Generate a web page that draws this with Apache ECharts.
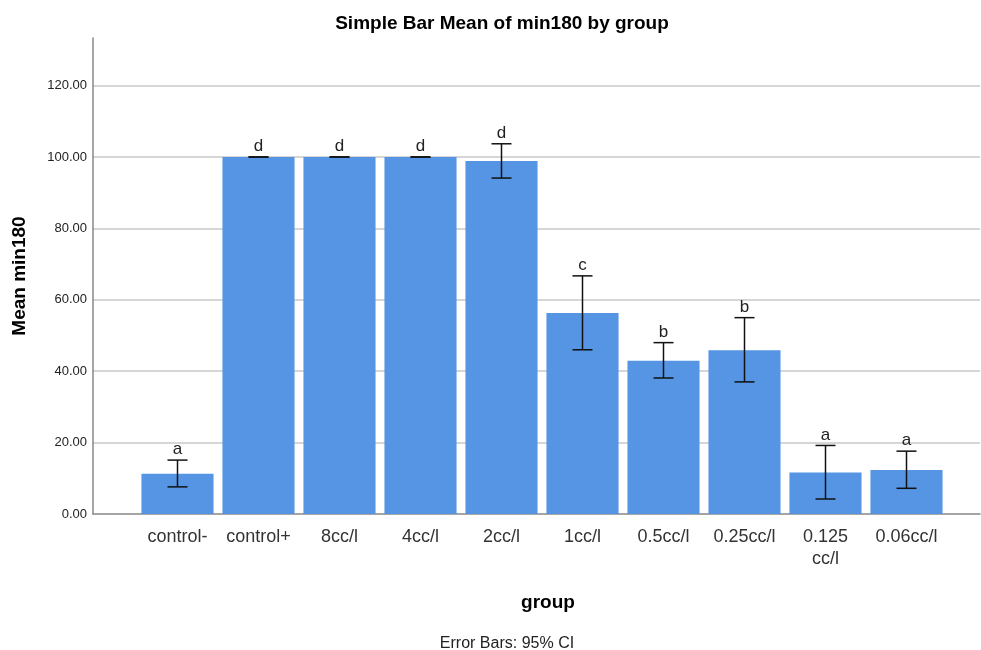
<!DOCTYPE html>
<html>
<head>
<meta charset="utf-8">
<script src="https://cdn.jsdelivr.net/npm/echarts@6/dist/echarts.min.js"></script>
<style>
html, body { margin: 0; padding: 0; background: #fff; }
#main { width: 981px; height: 650px; }
</style>
</head>
<body>
<div id="main"></div>
<script>
var groups = ['control-', 'control+', '8cc/l', '4cc/l', '2cc/l', '1cc/l', '0.5cc/l', '0.25cc/l', '0.125 cc/l', '0.06cc/l'];
var means = [11.3, 100, 100, 100, 98.9, 56.3, 42.9, 45.9, 11.6, 12.3];
var ciLow = [7.6, 100, 100, 100, 94.1, 46.0, 38.1, 37.0, 4.2, 7.2];
var ciHigh = [15.1, 100, 100, 100, 103.7, 66.7, 48.0, 55.0, 19.2, 17.6];
var letters = ['a', 'd', 'd', 'd', 'd', 'c', 'b', 'b', 'a', 'a'];
var yMax = 133.33;

(function(){
	var chart = echarts.init(document.getElementById('main'));
	var font = '"Liberation Sans", Arial, sans-serif';

	var errData = groups.map(function(g, i){ return [i, ciLow[i], ciHigh[i]]; });

	var option = {
		animation: false,
		textStyle: { fontFamily: font },
		title: [
			{
				text: 'Simple Bar Mean of min180 by group',
				left: 497, top: 9, textAlign: 'center',
				textStyle: { fontSize: 19, fontWeight: 'bold', color: '#000', fontFamily: font }
			},
			{
				text: 'group',
				left: 543, top: 588, textAlign: 'center',
				textStyle: { fontSize: 19, fontWeight: 'bold', color: '#000', fontFamily: font }
			},
			{
				text: 'Error Bars: 95% CI',
				left: 502, top: 631, textAlign: 'center',
				textStyle: { fontSize: 16, fontWeight: 'normal', color: '#222', fontFamily: font }
			}
		],
		grid: [
			{ left: 93, right: 1, top: 38, bottom: 136 },
			{ left: 137, right: 34, top: 38, bottom: 136 }
		],
		xAxis: [
			{
				gridIndex: 0, type: 'value', min: 0, max: 1,
				axisLine: { show: true, lineStyle: { color: '#888', width: 1.5 } },
				axisTick: { show: false }, axisLabel: { show: false }, splitLine: { show: false }
			},
			{
				gridIndex: 1, type: 'category', data: groups,
				axisLine: { show: false }, axisTick: { show: false },
				axisLabel: {
					color: '#333', fontSize: 18, margin: 12, interval: 0, lineHeight: 22,
					formatter: function(v){ return v.replace(' ', '\n'); }
				}
			}
		],
		yAxis: [
			{
				gridIndex: 0, type: 'value', min: 0, max: yMax, interval: 20,
				name: 'Mean min180', nameLocation: 'middle', nameGap: 64,
				nameTextStyle: { fontSize: 19, fontWeight: 'bold', color: '#000', fontFamily: font },
				axisLine: { show: true, lineStyle: { color: '#888', width: 1.5 } },
				axisTick: { show: false },
				axisLabel: {
					color: '#222', fontSize: 13, margin: 6, showMaxLabel: false,
					formatter: function(v){ return v.toFixed(2); }
				},
				splitLine: { show: true, showMaxLine: false, showMinLine: false, lineStyle: { color: '#c8c8c8', width: 1.5 } }
			},
			{
				gridIndex: 1, type: 'value', min: 0, max: yMax, show: false,
				splitLine: { show: false }
			}
		],
		series: [
			{
				type: 'bar', xAxisIndex: 1, yAxisIndex: 1,
				data: means, barCategoryGap: '11%',
				itemStyle: { color: '#5595e3' }
			},
			{
				type: 'custom', xAxisIndex: 1, yAxisIndex: 1,
				data: errData, z: 10,
				renderItem: function(params, api){
					var x = api.value(0);
					var lo = api.coord([x, api.value(1)]);
					var hi = api.coord([x, api.value(2)]);
					var half = 10;
					var st = { stroke: '#111', lineWidth: 1.5 };
					return {
						type: 'group',
						children: [
							{ type: 'line', shape: { x1: hi[0], y1: hi[1], x2: lo[0], y2: lo[1] }, style: st },
							{ type: 'line', shape: { x1: hi[0] - half, y1: hi[1], x2: hi[0] + half, y2: hi[1] }, style: st },
							{ type: 'line', shape: { x1: lo[0] - half, y1: lo[1], x2: lo[0] + half, y2: lo[1] }, style: st },
							{
								type: 'text',
								style: {
									text: letters[params.dataIndex], x: hi[0], y: hi[1] - 2,
									textAlign: 'center', textVerticalAlign: 'bottom',
									fontSize: 17, fill: '#222', fontFamily: font
								}
							}
						]
					};
				}
			}
		]
	};
	chart.setOption(option);
})();
</script>
</body>
</html>
